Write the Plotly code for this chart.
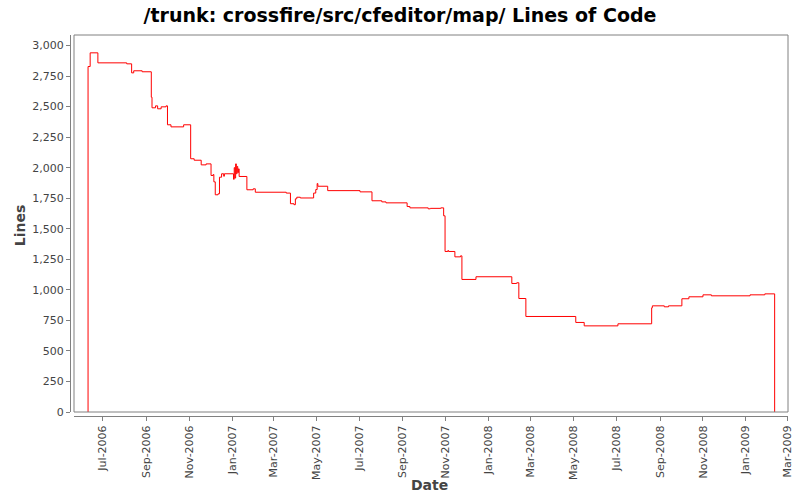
import plotly.graph_objects as go

dates = [
    "2006-06-10", "2006-06-10", "2006-06-13", "2006-06-24", "2006-08-04", "2006-08-11",
    "2006-08-14", "2006-08-26", "2006-09-08", "2006-09-09", "2006-09-14", "2006-09-17",
    "2006-09-22", "2006-09-29", "2006-10-01", "2006-10-06", "2006-10-24", "2006-11-03",
    "2006-11-08", "2006-11-18", "2006-11-25", "2006-12-02", "2006-12-05", "2006-12-06",
    "2006-12-08", "2006-12-12", "2006-12-14", "2006-12-17", "2006-12-20", "2006-12-21",
    "2007-01-03", "2007-01-04", "2007-01-05", "2007-01-06", "2007-01-07", "2007-01-08",
    "2007-01-09", "2007-01-10", "2007-01-11", "2007-01-22", "2007-01-31", "2007-02-03",
    "2007-03-19", "2007-03-25", "2007-03-30", "2007-04-01", "2007-04-03", "2007-04-08",
    "2007-04-27", "2007-04-30", "2007-05-02", "2007-05-03", "2007-05-17", "2007-07-02",
    "2007-07-19", "2007-08-02", "2007-08-08", "2007-09-07", "2007-09-11", "2007-10-07",
    "2007-10-10", "2007-10-25", "2007-10-29", "2007-10-31", "2007-11-04", "2007-11-05",
    "2007-11-14", "2007-11-22", "2007-11-24", "2007-12-14", "2008-02-03", "2008-02-10",
    "2008-02-13", "2008-02-23", "2008-05-04", "2008-05-16", "2008-07-03", "2008-08-20",
    "2008-08-21", "2008-09-07", "2008-09-13", "2008-10-02", "2008-10-12", "2008-11-01",
    "2008-11-13", "2009-01-07", "2009-01-28", "2009-02-11",
]
lines = [
    0, 2828, 2940, 2858, 2850, 2776,
    2793, 2785, 2577, 2490, 2506, 2482,
    2498, 2506, 2351, 2334, 2351, 2073,
    2061, 2023, 2031, 1936, 1944, 1884,
    1778, 1786, 1922, 1950, 1930, 1950,
    1905, 2000, 1915, 2031, 1950, 2010,
    1960, 1990, 1928, 1819, 1827, 1799,
    1792, 1705, 1697, 1745, 1758, 1752,
    1792, 1821, 1870, 1848, 1812, 1802,
    1729, 1720, 1712, 1682, 1671, 1663,
    1667, 1671, 1606, 1314, 1322, 1314,
    1270, 1278, 1085, 1107, 1052, 1058,
    929, 782, 733, 705, 722, 853,
    869, 861, 869, 927, 943, 959,
    951, 959, 967, 0,
]

x_range = ["2006-05-21", "2009-03-02"]
y_range = [0, 3086]
y_ticks = list(range(0, 3001, 250))

FONT = "DejaVu Sans"
GREY = "#808080"
TXT = "#444444"

fig = go.Figure()
fig.add_trace(go.Scatter(
    x=dates, y=lines, mode="lines", line_shape="hv",
    line=dict(color="#ff0000", width=1), showlegend=False,
))

W, H = 800, 500
ml, mr, mt, mb = 70, 12, 35, 84
pw = W - ml - mr
ph = H - mt - mb
off = 4
xd0 = off / pw
yd0 = off / ph

fig.update_layout(
    width=W, height=H,
    margin=dict(l=ml, r=mr, t=mt, b=mb, autoexpand=False),
    paper_bgcolor="white", plot_bgcolor="white",
    font=dict(family=FONT, size=11, color=TXT),
    title=dict(text="<b>/trunk: crossfire/src/cfeditor/map/ Lines of Code</b>",
               x=0.5, xanchor="center", y=0.97, yanchor="middle",
               font=dict(family=FONT, size=19, color="#000000")),
    xaxis=dict(
        type="date", range=x_range, domain=[xd0, 1],
        anchor="free", position=0, automargin=False,
        tickmode="linear", tick0="2006-07-01", dtick="M2", tickformat="%b-%Y",
        tickangle=-90, ticks="outside", ticklen=4, tickcolor=GREY,
        tickfont=dict(family=FONT, size=11, color=TXT),
        showline=True, linecolor=GREY, linewidth=1,
        showgrid=False, zeroline=False,
    ),
    yaxis=dict(
        range=y_range, domain=[yd0, 1],
        anchor="free", position=0, automargin=False,
        tickmode="array", tickvals=y_ticks, tickformat=",",
        ticks="outside", ticklen=4, tickcolor=GREY,
        showline=True, linecolor=GREY, linewidth=1,
        showgrid=False, zeroline=False,
    ),
    shapes=[dict(type="rect", xref="paper", yref="paper", x0=xd0, x1=1, y0=yd0, y1=1,
                 line=dict(color=GREY, width=1), fillcolor="rgba(0,0,0,0)", layer="above")],
    annotations=[
        dict(text="<b>Date</b>", xref="paper", yref="paper", x=0.5, y=-0.18,
             xanchor="center", yanchor="middle", showarrow=False,
             font=dict(family=FONT, size=14, color=TXT)),
        dict(text="<b>Lines</b>", xref="paper", yref="paper", x=-0.07, y=0.5,
             xanchor="center", yanchor="middle", showarrow=False, textangle=-90,
             font=dict(family=FONT, size=14, color=TXT)),
    ],
)

fig.write_html("out.html")
